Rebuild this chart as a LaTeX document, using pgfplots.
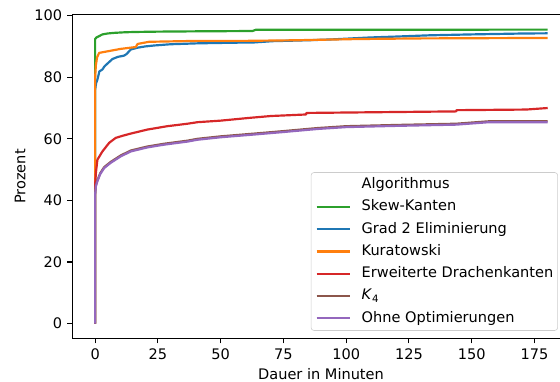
\documentclass[border=0pt]{standalone}
\usepackage{fontspec}
\setmainfont{DejaVu Sans}
\usepackage{pgfplots}
\pgfplotsset{compat=1.18}
\definecolor{tabblue}{HTML}{1F77B4}
\definecolor{taborange}{HTML}{FF7F0E}
\definecolor{tabgreen}{HTML}{2CA02C}
\definecolor{tabred}{HTML}{D62728}
\definecolor{tabpurple}{HTML}{9467BD}
\definecolor{tabbrown}{HTML}{8C564B}
\begin{document}
\begin{tikzpicture}
\begin{axis}[name=ax,
  scale only axis, width=335.3pt, height=222.5pt,
  xmin=-9.1, xmax=185.2, ymin=-4.78, ymax=100.3,
  axis x line=box, axis y line=left,
  axis line style={-, line width=0.8pt},
  xtick={0,25,...,175}, ytick={0,20,...,100},
  xtick pos=left, ytick pos=left,
  tick align=outside, major tick length=3.5pt,
  every tick/.style={black, line width=0.8pt},
  minor tick num=0,
  /pgf/number format/assume math mode=true,
  tick label style={font=\fontsize{10}{12}\selectfont},
  label style={font=\fontsize{10}{12}\selectfont},
  xlabel={Dauer in Minuten}, ylabel={Prozent},
  xlabel style={at={(axis description cs:0.51,0)}, anchor=north, yshift=-17pt},
  ylabel style={at={(axis description cs:-0.107,0.5)}, anchor=center},
  legend cell align=left,
  legend image code/.code={\draw[#1, line width=1.5pt] (0pt,0pt) -- (22.7pt,0pt);},
  legend style={at={(1,0)}, anchor=south east, xshift=-1.4pt, yshift=5.2pt,
    draw=black!20, fill=white, fill opacity=0.8, text opacity=1,
    rounded corners=2pt, font=\fontsize{10}{12}\selectfont,
    inner xsep=3pt, inner ysep=3.5pt, row sep=5.5pt, column sep=7.6pt,
    nodes={inner sep=0pt, text height=7.5pt, text depth=2.3pt}},
]
\addlegendimage{empty legend}
\addlegendentry{Algorithmus}
% Skew-Kanten
\addplot[tabgreen, line width=1.5pt, line join=round] coordinates {(0,0) (0,92.4) (0.5,92.9) (1.5,93.3) (2.9,93.9) (5,94.2) (7.6,94.4) (12,94.6) (16.9,94.7) (25,94.8) (40.8,94.9) (62.7,95.0) (64,95.4) (180.3,95.45)};
\addlegendentry{Skew-Kanten}
% Grad 2
\addplot[tabblue, line width=1.5pt, line join=round] coordinates {(0,0) (0,76) (0.4,78.1) (0.9,79.2) (1.7,81.9) (2.9,82.5) (3.7,83.5) (5,84.5) (6.9,85.9) (9,86.6) (11.5,87) (12.5,87.5) (14.2,89) (17,89.6) (20,90) (23.5,90.3) (30,90.7) (40.8,91) (55,91.2) (63.5,91.3) (70.7,91.7) (85,92) (95,92.3) (109.4,92.9) (120,93.2) (133,93.6) (150,93.9) (171,94.2) (180.3,94.25)};
\addlegendentry{Grad 2 Eliminierung}
% Kuratowski
\addplot[taborange, line width=1.5pt, line join=round] coordinates {(0,0) (0,80) (0.3,84) (0.8,86.5) (1.6,87.9) (4.9,88.4) (10.2,89.2) (16.2,89.8) (16.9,90.8) (21.5,91.5) (40.8,91.8) (60,91.8) (80,92.0) (105,92.4) (130,92.6) (180.3,92.75)};
\addlegendentry{Kuratowski}
% Erweiterte Drachenkanten
\addplot[tabred, line width=1.5pt, line join=round] coordinates {(0,0) (0,45) (0.3,48.9) (0.9,53.2) (2.9,55.9) (5.6,58.7) (8.2,60.3) (11,61) (14.2,61.7) (20.8,63) (28.8,64.1) (36.8,64.9) (40.8,65.4) (50,65.9) (61.5,66.8) (70,67.4) (84,67.9) (84.2,68.4) (143.8,68.9) (144,69.3) (171.7,69.5) (180.3,70.0)};
\addlegendentry{Erweiterte Drachenkanten}
% K4
\addplot[tabbrown, line width=1.5pt, line join=round] coordinates {(0,0) (0,42.3) (0.3,44.9) (0.9,46.5) (2,48.8) (3.6,50.8) (6.2,52.5) (10.2,54.6) (14.2,56.2) (20.8,57.5) (27.5,58.4) (36.8,59.4) (40.8,60.0) (50,60.8) (63.5,61.7) (75,62.5) (88.7,63.5) (100,64.1) (120,64.5) (143.8,64.9) (157,65.7) (180.3,65.7)};
\addlegendentry{\textit{K}\textsubscript{4}}
% Ohne Optimierungen
\addplot[tabpurple, line width=1.5pt, line join=round] coordinates {(0,0) (0,42) (0.3,44.6) (0.9,46.2) (2,48.5) (3.6,50.5) (6.2,52.2) (10.2,54.3) (14.2,55.9) (20.8,57.2) (27.5,58.1) (36.8,59.1) (40.8,59.7) (50,60.5) (63.5,61.4) (75,62.2) (88.7,63.2) (100,63.8) (120,64.2) (143.8,64.6) (157,65.4) (180.3,65.4)};
\addlegendentry{Ohne Optimierungen}
\end{axis}
\pgfresetboundingbox
\path[use as bounding box] ([xshift=-49.7pt, yshift=-30.0pt]ax.south west) rectangle ([yshift=10.1pt]ax.north east);
\end{tikzpicture}
\end{document}
